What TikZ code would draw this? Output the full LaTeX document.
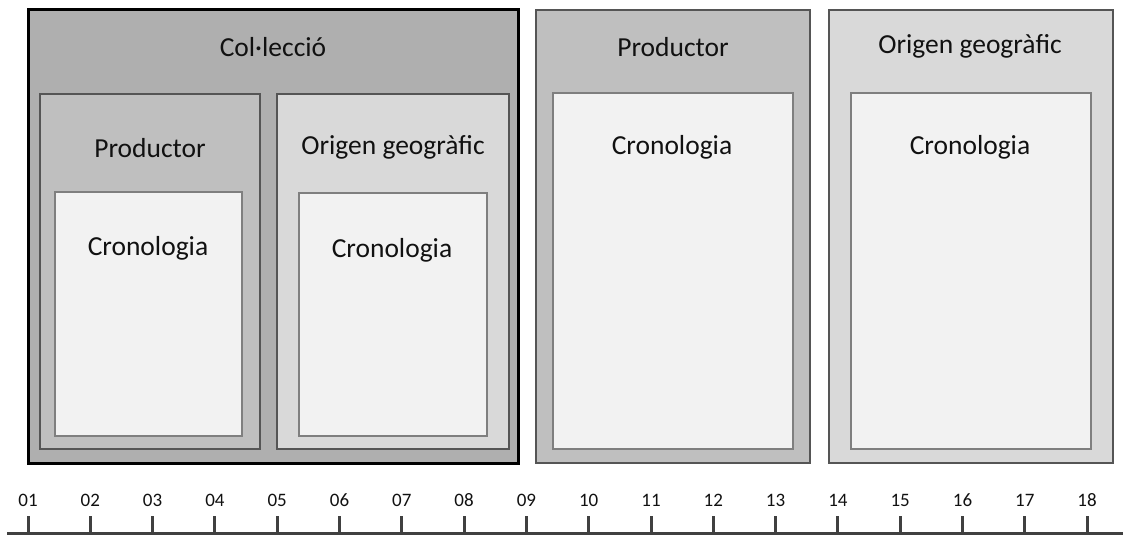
\documentclass[tikz,border=0pt]{standalone}
\usepackage{fontspec}
\setmainfont{Carlito}
\definecolor{fillA}{HTML}{AFAFAF}
\definecolor{fillB}{HTML}{BFBFBF}
\definecolor{fillC}{HTML}{D9D9D9}
\definecolor{fillD}{HTML}{F2F2F2}
\definecolor{edgeB}{HTML}{555555}
\definecolor{edgeD}{HTML}{7F7F7F}
\definecolor{axis}{HTML}{404040}
\definecolor{txt}{HTML}{111111}
\tikzset{
  box/.style={rectangle, anchor=north west, inner sep=0pt, outer sep=0pt},
  outerbox/.style={box, fill=fillA, draw=black, line width=3pt},
  prodbox/.style={box, fill=fillB, draw=edgeB, line width=2.5pt},
  origbox/.style={box, fill=fillC, draw=edgeB, line width=2.5pt},
  cronbox/.style={box, fill=fillD, draw=edgeD, line width=2.5pt},
  lbl/.style={font=\fontsize{27.5}{30}\selectfont, text=txt, inner sep=0pt},
  tlbl/.style={font=\fontsize{19}{22}\selectfont, text=txt, inner sep=0pt},
  axisline/.style={draw=axis, line width=3pt},
}
\begin{document}
\begin{tikzpicture}[x=1pt,y=-1pt]
\useasboundingbox (0,0) rectangle (1123,537);
% left group
\node[outerbox, minimum width=490pt, minimum height=453pt] (col) at (28,10) {};
\node[lbl] (colT) at (273,47) {Col·lecció};
\node[prodbox, minimum width=220pt, minimum height=355pt] (p1) at (40,94) {};
\node[lbl] (p1T) at (150,148) {Productor};
\node[cronbox, minimum width=187pt, minimum height=244pt] (c1) at (55,192) {};
\node[lbl] (c1T) at (148,248) {Cronologia};
\node[origbox, minimum width=232pt, minimum height=355pt] (o1) at (277,94) {};
\node[lbl] (o1T) at (393,147) {Origen geogràfic};
\node[cronbox, minimum width=188pt, minimum height=243pt] (c2) at (299,193) {};
\node[lbl] (c2T) at (392,250) {Cronologia};
% middle
\node[prodbox, minimum width=274pt, minimum height=453pt] (p2) at (536,10) {};
\node[lbl] (p2T) at (673,47) {Productor};
\node[cronbox, minimum width=240pt, minimum height=356pt] (c3) at (553,93) {};
\node[lbl] (c3T) at (672,147) {Cronologia};
% right
\node[origbox, minimum width=284pt, minimum height=453pt] (o2) at (829,10) {};
\node[lbl] (o2T) at (970,46) {Origen geogràfic};
\node[cronbox, minimum width=240pt, minimum height=356pt] (c4) at (851,93) {};
\node[lbl] (c4T) at (970,147) {Cronologia};
% timeline
\coordinate (axL) at (7,533);
\coordinate (axR) at (1123,533);
\draw[axisline] (axL) -- (axR);
\foreach \i [count=\k from 0] in {01,02,03,04,05,06,07,08,09,10,11,12,13,14,15,16,17,18} {
  \coordinate (t\i) at ({28+\k*62.3},533);
  \coordinate (u\i) at ({28+\k*62.3},516);
  \draw[axisline] (t\i) -- (u\i);
  \node[tlbl] (l\i) at ({28+\k*62.3},500) {\i};
}
\end{tikzpicture}
\end{document}
